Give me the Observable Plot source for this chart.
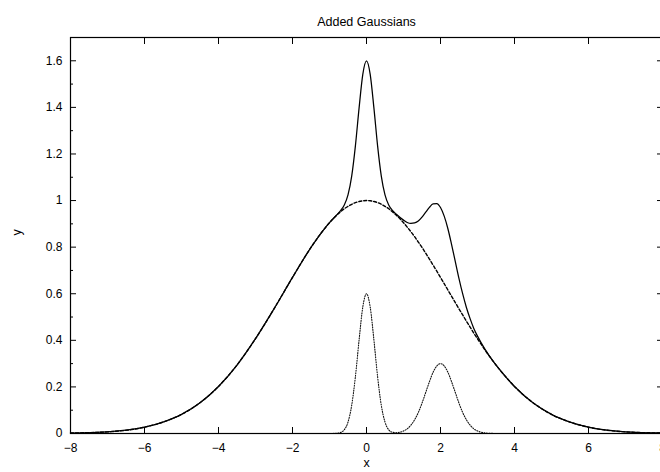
<!DOCTYPE html>
<html>
<head>
<meta charset="utf-8">
<script src="https://cdn.jsdelivr.net/npm/d3@7"></script>
<script src="https://cdn.jsdelivr.net/npm/@observablehq/plot@0.6"></script>
<style>
  html, body { margin: 0; padding: 0; background: #fff; overflow: hidden; }
  #chart svg { display: block; }
</style>
</head>
<body>
<div id="chart"></div>
<script>
const title = "Added Gaussians";
const xLabel = "x";
const yLabel = "y";

// Sample positions along x
const xs = [-8, -7, -6, -5.5, -5, -4.5, -4, -3.5, -3, -2.5, -2, -1.5, -1.2, -1, -0.8, -0.7, -0.6, -0.5, -0.4, -0.3, -0.2, -0.1, 0,
  0.1, 0.2, 0.3, 0.4, 0.5, 0.6, 0.7, 0.8, 1.0, 1.1, 1.2, 1.3, 1.4, 1.5, 1.6, 1.7, 1.8, 1.9, 2.0,
  2.1, 2.2, 2.3, 2.4, 2.5, 2.6, 2.7, 2.8, 2.9, 3.0, 3.2, 3.4, 3.6, 4.0, 4.5, 5, 5.5, 6, 7, 8];

// Solid curve: the added total
const sumY = [0.002, 0.007, 0.027, 0.049, 0.082, 0.132, 0.202, 0.294, 0.407, 0.535, 0.670, 0.799, 0.866, 0.905, 0.939, 0.957, 0.981, 1.024, 1.105, 1.235, 1.398, 1.542, 1.600,
  1.542, 1.398, 1.235, 1.105, 1.024, 0.981, 0.958, 0.942, 0.916, 0.906, 0.902, 0.904, 0.912, 0.929, 0.950, 0.971, 0.986, 0.987, 0.970,
  0.933, 0.879, 0.811, 0.738, 0.665, 0.599, 0.541, 0.493, 0.451, 0.418, 0.362, 0.315, 0.274, 0.202, 0.132, 0.082, 0.049, 0.027, 0.007, 0.002];

// Dashed curve: the broad Gaussian
const broadY = [0.002, 0.007, 0.027, 0.049, 0.082, 0.132, 0.202, 0.294, 0.407, 0.535, 0.670, 0.799, 0.866, 0.905, 0.938, 0.952, 0.965, 0.975, 0.984, 0.991, 0.996, 0.999, 1.000,
  0.999, 0.996, 0.991, 0.984, 0.975, 0.965, 0.952, 0.938, 0.905, 0.886, 0.866, 0.845, 0.822, 0.799, 0.774, 0.749, 0.723, 0.697, 0.670,
  0.643, 0.616, 0.589, 0.562, 0.535, 0.509, 0.482, 0.457, 0.431, 0.407, 0.359, 0.315, 0.274, 0.202, 0.132, 0.082, 0.049, 0.027, 0.007, 0.002];

// Dotted curve: the two narrow Gaussians
const narrowY = [0, 0, 0, 0, 0, 0, 0, 0, 0, 0, 0, 0, 0, 0, 0.001, 0.0045, 0.016, 0.049, 0.121, 0.244, 0.402, 0.543, 0.600,
  0.543, 0.402, 0.244, 0.121, 0.049, 0.016, 0.0056, 0.0035, 0.011, 0.020, 0.036, 0.059, 0.090, 0.130, 0.176, 0.222, 0.263, 0.290, 0.300,
  0.290, 0.263, 0.222, 0.176, 0.130, 0.090, 0.059, 0.036, 0.020, 0.011, 0.0025, 0.0004, 0, 0, 0, 0, 0, 0, 0, 0];

const xTicks = [-8, -6, -4, -2, 0, 2, 4, 6, 8];
const yTicks = [0, 0.2, 0.4, 0.6, 0.8, 1, 1.2, 1.4, 1.6];
const yTickLabels = ["0", "0.2", "0.4", "0.6", "0.8", "1", "1.2", "1.4", "1.6"];
const yMinorTicks = [0.1, 0.3, 0.5, 0.7, 0.9, 1.1, 1.3, 1.5];

const toRows = (ys) => xs.map((x, i) => ({x, y: ys[i]}));
const empty = () => "";

const chart = Plot.plot({
  width: 660,
  height: 472,
  marginLeft: 70,
  marginRight: -2,
  marginTop: 37,
  marginBottom: 39,
  style: {fontFamily: "'Liberation Sans', Arial, sans-serif", fontSize: "12px", background: "#fff", color: "#000", overflow: "visible"},
  x: {domain: [-8, 8], label: null},
  y: {domain: [0, 1.7], label: null},
  marks: [
    Plot.line(toRows(narrowY), {x: "x", y: "y", stroke: "#111", strokeWidth: 1.1, strokeDasharray: "1,1.5", curve: "monotone-x"}),
    Plot.line(toRows(broadY), {x: "x", y: "y", stroke: "#000", strokeWidth: 1.4, strokeDasharray: "3,2", curve: "monotone-x"}),
    Plot.line(toRows(sumY), {x: "x", y: "y", stroke: "#000", strokeWidth: 1.25, curve: "monotone-x"}),
    Plot.frame({stroke: "#000", strokeWidth: 1.2}),
    Plot.axisX({anchor: "bottom", ticks: xTicks, tickSize: -6, tickPadding: 16, label: null}),
    Plot.axisX({anchor: "top", ticks: xTicks, tickSize: -6, tickFormat: empty, label: null}),
    Plot.axisY({anchor: "left", ticks: yTicks, tickSize: -6, tickPadding: 14, tickFormat: (d, i) => yTickLabels[i], label: null}),
    Plot.axisY({anchor: "left", ticks: yMinorTicks, tickSize: -3, tickFormat: empty, label: null}),
    Plot.axisY({anchor: "right", ticks: yTicks, tickSize: -6, tickFormat: empty, label: null}),
    Plot.axisY({anchor: "right", ticks: yMinorTicks, tickSize: -3, tickFormat: empty, label: null}),
    Plot.text([title], {frameAnchor: "top", dy: -20, fontSize: 12.5}),
    Plot.text([xLabel], {frameAnchor: "bottom", dy: 33, fontSize: 12.5}),
    Plot.text([yLabel], {frameAnchor: "left", dx: -54, rotate: -90, fontSize: 12.5})
  ]
});
document.getElementById("chart").appendChild(chart);
</script>
</body>
</html>
